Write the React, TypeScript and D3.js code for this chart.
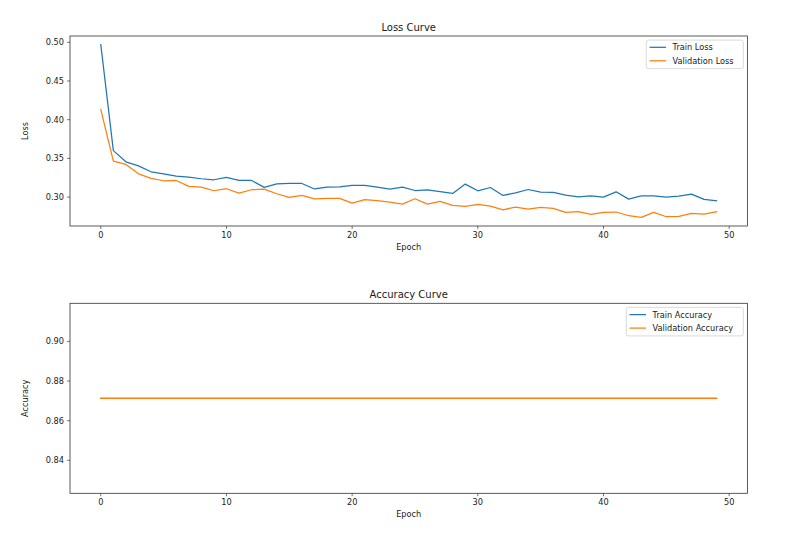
import React from "react";
import * as d3 from "d3";

const trainLoss = [0.497, 0.360, 0.3456, 0.3404, 0.3327, 0.330, 0.327, 0.3258, 0.3237, 0.3224,
  0.3254, 0.3215, 0.3215, 0.3125, 0.3172, 0.3178, 0.3176, 0.3105, 0.3129, 0.3133,
  0.3150, 0.3150, 0.3129, 0.3103, 0.3129, 0.3085, 0.3094, 0.3072, 0.3047, 0.3168,
  0.3081, 0.3124, 0.3021, 0.3055, 0.3098, 0.3064, 0.3060, 0.3025, 0.3004, 0.3017,
  0.3000, 0.3068, 0.2974, 0.3017, 0.3017, 0.3000, 0.3013, 0.3038, 0.2970, 0.2953];
const valLoss = [0.4131, 0.3464, 0.3422, 0.3301, 0.3241, 0.3211, 0.3215, 0.3138, 0.3129, 0.3082,
  0.3108, 0.3052, 0.3095, 0.3103, 0.3043, 0.2996, 0.3022, 0.2976, 0.2983, 0.2983,
  0.2923, 0.2966, 0.2953, 0.2936, 0.2910, 0.2979, 0.2910, 0.2944, 0.2893, 0.2880,
  0.2906, 0.2884, 0.2836, 0.2871, 0.2843, 0.2868, 0.2854, 0.2802, 0.2811, 0.2777,
  0.2802, 0.2807, 0.2759, 0.2738, 0.2802, 0.2746, 0.2751, 0.2790, 0.2781, 0.2811];
const trainAcc = [0.8713, 0.8713, 0.8713, 0.8713, 0.8713, 0.8713, 0.8713, 0.8713, 0.8713, 0.8713,
  0.8713, 0.8713, 0.8713, 0.8713, 0.8713, 0.8713, 0.8713, 0.8713, 0.8713, 0.8713,
  0.8713, 0.8713, 0.8713, 0.8713, 0.8713, 0.8713, 0.8713, 0.8713, 0.8713, 0.8713,
  0.8713, 0.8713, 0.8713, 0.8713, 0.8713, 0.8713, 0.8713, 0.8713, 0.8713, 0.8713,
  0.8713, 0.8713, 0.8713, 0.8713, 0.8713, 0.8713, 0.8713, 0.8713, 0.8713, 0.8713];
const valAcc = [0.8713, 0.8713, 0.8713, 0.8713, 0.8713, 0.8713, 0.8713, 0.8713, 0.8713, 0.8713,
  0.8713, 0.8713, 0.8713, 0.8713, 0.8713, 0.8713, 0.8713, 0.8713, 0.8713, 0.8713,
  0.8713, 0.8713, 0.8713, 0.8713, 0.8713, 0.8713, 0.8713, 0.8713, 0.8713, 0.8713,
  0.8713, 0.8713, 0.8713, 0.8713, 0.8713, 0.8713, 0.8713, 0.8713, 0.8713, 0.8713,
  0.8713, 0.8713, 0.8713, 0.8713, 0.8713, 0.8713, 0.8713, 0.8713, 0.8713, 0.8713];

const xTicks = [0, 10, 20, 30, 40, 50];
const lossTicks = [0.30, 0.35, 0.40, 0.45, 0.50];
const accTicks = [0.84, 0.86, 0.88, 0.90];

const BLUE = "#1f77b4";
const ORANGE = "#ff7f0e";
const FONT = "DejaVu Sans, sans-serif";
const TXT = "#1a1a1a";

const W = 787, H = 540;
const LEFT = 70, RIGHT = 747.4;
const FS = 8.2;

function mplExtent(values: number[]): [number, number] {
  let lo = d3.min(values) as number;
  let hi = d3.max(values) as number;
  if (hi - lo < 1e-12) {
    lo = lo - 0.05 * Math.abs(lo);
    hi = hi + 0.05 * Math.abs(hi);
  }
  const m = (hi - lo) * 0.05;
  return [lo - m, hi + m];
}

type Series = { name: string; values: number[]; color: string };

function Panel(props: {
  top: number; bottom: number; title: string; ylabel: string;
  series: Series[]; yTicks: number[]; fmt: (v: number) => string; legendW: number;
}) {
  const { top, bottom, title, ylabel, series, yTicks, fmt, legendW } = props;
  const n = series[0].values.length;
  const x = d3.scaleLinear().domain([-(n - 1) * 0.05, (n - 1) * 1.05]).range([LEFT, RIGHT]);
  const all = series.flatMap((s) => s.values);
  const y = d3.scaleLinear().domain(mplExtent(all)).range([bottom, top]);
  const line = d3.line<number>().x((_, i) => x(i)).y((d) => y(d));
  const lx = RIGHT - 4.1 - legendW;
  const ly = top + 4.1;
  return (
    <g>
      {series.map((s) => (
        <path key={s.name} d={line(s.values) || ""} fill="none" stroke={s.color} strokeWidth={1.25} strokeLinejoin="round" strokeLinecap="square" />
      ))}
      <rect x={LEFT} y={top} width={RIGHT - LEFT} height={bottom - top} fill="none" stroke="#333" strokeWidth={0.8} />
      {xTicks.map((t) => (
        <g key={"x" + t}>
          <line x1={x(t)} x2={x(t)} y1={bottom} y2={bottom + 2.9} stroke="#333" strokeWidth={0.7} />
          <text x={x(t)} y={bottom + 12} textAnchor="middle" fontSize={FS} fontFamily={FONT} fill={TXT}>{t}</text>
        </g>
      ))}
      {yTicks.map((t) => (
        <g key={"y" + t}>
          <line x1={LEFT - 2.9} x2={LEFT} y1={y(t)} y2={y(t)} stroke="#333" strokeWidth={0.7} />
          <text x={LEFT - 6} y={y(t) + 3} textAnchor="end" fontSize={FS} fontFamily={FONT} fill={TXT}>{fmt(t)}</text>
        </g>
      ))}
      <text x={(LEFT + RIGHT) / 2} y={bottom + 24} textAnchor="middle" fontSize={FS} fontFamily={FONT} fill={TXT}>Epoch</text>
      <text transform={`translate(28,${(top + bottom) / 2}) rotate(-90)`} textAnchor="middle" fontSize={FS} fontFamily={FONT} fill={TXT}>{ylabel}</text>
      <text x={(LEFT + RIGHT) / 2} y={top - 5} textAnchor="middle" fontSize={10} fontFamily={FONT} fill={TXT}>{title}</text>
      <g>
        <rect x={lx} y={ly} width={legendW} height={28.5} rx={2} ry={2} fill="white" fillOpacity={0.8} stroke="#d0d0d0" strokeWidth={0.8} />
        {series.map((s, i) => (
          <g key={"l" + s.name}>
            <line x1={lx + 3.3} x2={lx + 19.7} y1={ly + 7.2 + i * 13.5} y2={ly + 7.2 + i * 13.5} stroke={s.color} strokeWidth={1.25} />
            <text x={lx + 26.3} y={ly + 7.2 + i * 13.5 + 3} fontSize={FS} fontFamily={FONT} fill={TXT}>{s.name}</text>
          </g>
        ))}
      </g>
    </g>
  );
}

export default function App() {
  return (
    <svg width={W} height={H} style={{ position: "absolute", left: 0, top: 0, background: "white" }}>
      <rect width={W} height={H} fill="white" />
      <Panel top={36} bottom={226} title="Loss Curve" ylabel="Loss"
        series={[{ name: "Train Loss", values: trainLoss, color: BLUE }, { name: "Validation Loss", values: valLoss, color: ORANGE }]}
        yTicks={lossTicks} fmt={d3.format(".2f")} legendW={97} />
      <Panel top={303.3} bottom={493.3} title="Accuracy Curve" ylabel="Accuracy"
        series={[{ name: "Train Accuracy", values: trainAcc, color: BLUE }, { name: "Validation Accuracy", values: valAcc, color: ORANGE }]}
        yTicks={accTicks} fmt={d3.format(".2f")} legendW={117} />
    </svg>
  );
}
